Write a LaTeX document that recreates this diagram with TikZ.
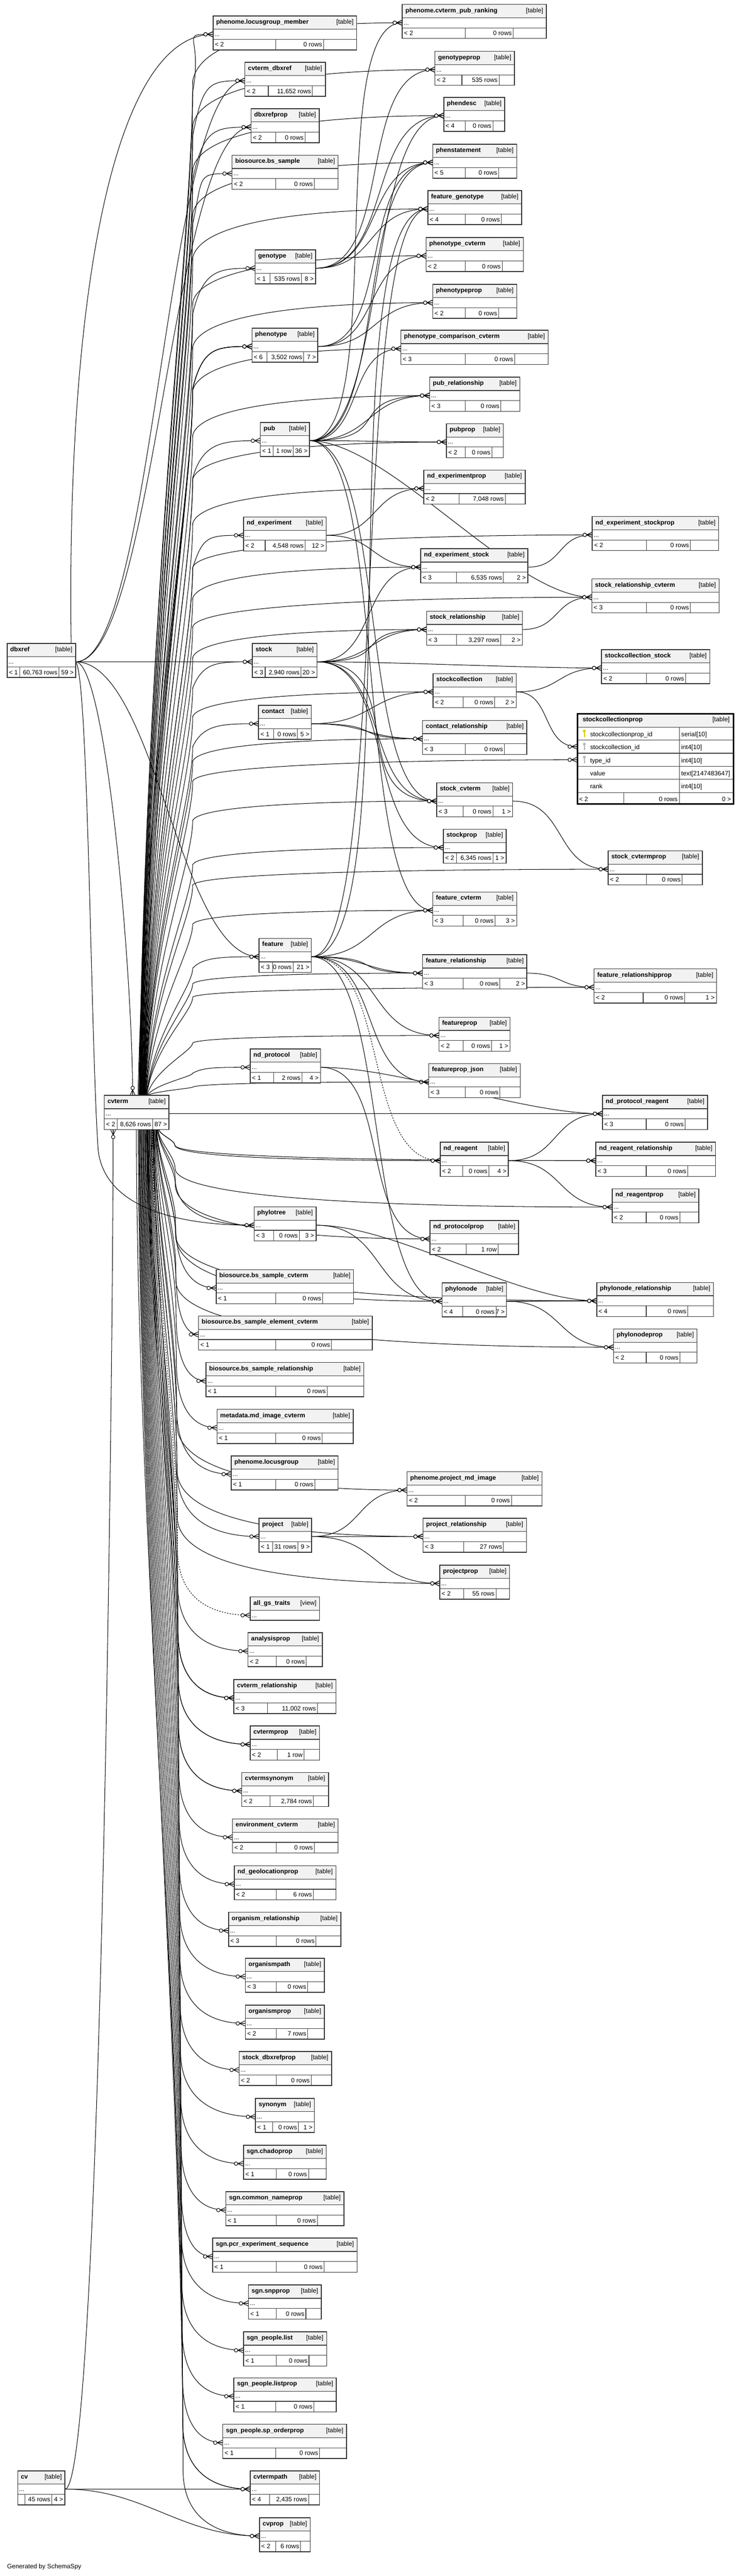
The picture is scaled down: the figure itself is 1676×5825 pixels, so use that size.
\documentclass[tikz,border=0pt]{standalone}
\usepackage{fontspec}
\setmainfont{Liberation Sans}
\usetikzlibrary{calc}
\pgfdeclarelayer{paper}
\pgfdeclarelayer{links}
\pgfsetlayers{paper,links,main}
\definecolor{keygold}{RGB}{222,205,0}
\definecolor{keygrey}{RGB}{185,185,185}
\tikzstyle{tblbox} = [rectangle, inner sep=0pt, outer sep=0pt, minimum height=77pt]
\tikzstyle{tblhead} = [fill=black!5]
\tikzstyle{tblrule} = [draw=black!75, line width=1.3pt]
\tikzstyle{tblframe} = [draw=black!80, line width=1.8pt]
\tikzstyle{tbltitle} = [inner sep=0pt, font=\fontsize{14.3}{17}\selectfont\bfseries]
\tikzstyle{tbltext} = [inner sep=0pt, font=\fontsize{14.3}{17}\selectfont]
\tikzstyle{fkline} = [line width=1.2pt, black]
\tikzset{kf/.store in=\kf, kf=1, cvdx/.store in=\cvdx, cvdx=0,
  crow/.pic={
    \draw[fkline] (-13,0) -- (0,-6) (-13,0) -- (0,6) (-13,0) -- (0,0);
    \draw[fkline, fill=white] (-17,0) circle (4pt);
  }}

% one table: name, left, right, top, split1, split2, title, footer
\newcommand\tbl[8]{%
  \node[tblbox, minimum width={(#3-#2)*1pt}] (#1) at ({(#2+#3)/2},{#4+38.5}) {};
  \fill[white] (#2,#4) rectangle (#3,#4+77);
  \fill[tblhead] (#2,#4) rectangle (#3,#4+30);
  \draw[tblrule] (#2,#4+30) -- (#3,#4+30) (#2,#4+53) -- (#3,#4+53)
    (#5,#4+53) -- (#5,#4+77) (#6,#4+53) -- (#6,#4+77);
  \draw[tblframe] (#2,#4) rectangle (#3,#4+77);
  \node[tbltitle, anchor=base west] (#1-name) at (#2+7,#4+18) {#7};
  \node[tbltext, anchor=base east] (#1-kind) at (#3-7,#4+18) {[table]};
  \node[tbltext, anchor=base west] (#1-dots) at (#2+3,#4+46) {...};
  \tblfoot{#1}{#2}{#3}{#4}{#5}{#6}#8\endfoot
  \coordinate (#1-in) at (#2,#4+41.5);
  \coordinate (#1-out) at (#3,#4+41.5);
}
\def\tblfoot#1#2#3#4#5#6#7|#8|#9\endfoot{%
  \node[tbltext, anchor=base west] (#1-up) at (#2+4,#4+70) {#7};
  \node[tbltext, anchor=base east] (#1-rows) at (#6-3,#4+70) {#8};
  \node[tbltext, anchor=base east] (#1-down) at (#3-4,#4+70) {#9};
}
% link from parent to child
\newcommand\fk[3][]{%
  \draw[fkline,#1] let \p1=(#2-out), \p2=(#3-in),
    \n1={\kf*max(40,min(180,0.5*abs(\x2-\x1)+0.1*abs(\y2-\y1)))} in
    (\p1) .. controls +(\n1,0) and +(-\n1,0) .. (\p2);
  \pic at (#3-in) {crow};}
% links leaving cvterm upwards, downwards (with a knee), sideways
\newcommand\cvu[2][]{%
  \draw[fkline,#1] let \p1=(cvterm.north), \p2=(#2-in),
    \p3=({314+0.008*abs(\y2)+(\cvdx)},{\y2-10-0.05*abs(\y1-\y2)}) in
    (\x3,\y1) .. controls ({\x3+0.15*(436-\x3)},{0.5*\y1+0.5*\y3})
      and (436,{\y3-0.15*(\y3-\y1)}) .. (436,\y3)
      .. controls (460,\y2) and ({\x2-80},\y2) .. (\p2);
  \pic at (#2-in) {crow};}
\newcommand\cvd[2][]{%
  \draw[fkline,#1] let \p1=(cvterm.south), \p2=(#2-in),
    \p3=({312+0.015*(5800-abs(\y2))+(\cvdx)},{\y2+min(150,0.5*abs(\y1-\y2))}),
    \p4=({395+0.006*(abs(\y2)-2554)},0) in
    (\x3,\y1) .. controls (\x3,{0.7*\y1+0.3*\y3}) and (\x4,{0.3*\y1+0.7*\y3}) .. (\x4,\y3)
      .. controls (\x4,{0.3*\y3+0.7*\y2}) and ({\x2-0.6*(\x2-\x4)},\y2) .. (\p2);
  \pic at (#2-in) {crow};}
\newcommand\cvr[2][]{%
  \draw[fkline,#1] (cvterm-out) .. controls +(120,0) and +(-120,0) .. (#2-in);
  \pic at (#2-in) {crow};}

\begin{document}
\begin{tikzpicture}[x=1pt, y=-1pt]
\useasboundingbox (0,0) rectangle (1676,5825);
\begin{pgfonlayer}{paper}
  \fill[white] (0,0) rectangle (1676,5825);
\end{pgfonlayer}

% Tables
\tbl{locusgroupMember}{482}{807}{36}{624}{732}{phenome.locusgroup\_member}{< 2|0 rows|}
\tbl{cvtermDbxref}{554}{736}{141}{607}{707}{cvterm\_dbxref}{< 2|11,652 rows|}
\tbl{dbxrefprop}{568}{722}{246}{624}{690}{dbxrefprop}{< 2|0 rows|}
\tbl{bsSample}{525}{765}{351}{624}{711}{biosource.bs\_sample}{< 2|0 rows|}
\tbl{genotype}{577}{714}{565}{611}{682}{genotype}{< 1|535 rows|8 >}
\tbl{phenotype}{570}{719}{742}{604}{687}{phenotype}{< 6|3,502 rows|7 >}
\tbl{pub}{589}{700}{955}{618}{663}{pub}{< 1|1 row|36 >}
\tbl{ndExperiment}{551}{738}{1169}{600}{690}{nd\_experiment}{< 2|4,548 rows|12 >}
\tbl{stock}{571}{717}{1455}{600}{681}{stock}{< 3|2,940 rows|20 >}
\tbl{contact}{585}{704}{1595}{619}{673}{contact}{< 1|0 rows|5 >}
\tbl{feature}{586}{704}{2122}{617}{663}{feature}{< 3|0 rows|21 >}
\tbl{ndProtocol}{566}{725}{2372}{619}{683}{nd\_protocol}{< 1|2 rows|4 >}
\tbl{phylotree}{575}{715}{2729}{619}{677}{phylotree}{< 3|0 rows|3 >}
\tbl{bsSampleCvterm}{489}{800}{2871}{624}{730}{biosource.bs\_sample\_cvterm}{< 1|0 rows|}
\tbl{bsSampleElementCvterm}{449}{842}{2976}{624}{750}{biosource.bs\_sample\_element\_cvterm}{< 1|0 rows|}
\tbl{bsSampleRelationship}{466}{823}{3081}{624}{740}{biosource.bs\_sample\_relationship}{< 1|0 rows|}
\tbl{mdImageCvterm}{491}{799}{3187}{624}{729}{metadata.md\_image\_cvterm}{< 1|0 rows|}
\tbl{locusgroup}{523}{765}{3292}{624}{712}{phenome.locusgroup}{< 1|0 rows|}
\tbl{project}{586}{705}{3433}{617}{674}{project}{< 1|31 rows|9 >}
\tbl{analysisprop}{561}{729}{3692}{625}{693}{analysisprop}{< 2|0 rows|}
\tbl{cvtermRelationship}{529}{760}{3798}{605}{718}{cvterm\_relationship}{< 3|11,002 rows|}
\tbl{cvtermprop}{566}{723}{3903}{627}{688}{cvtermprop}{< 2|1 row|}
\tbl{cvtermsynonym}{547}{743}{4008}{611}{709}{cvtermsynonym}{< 2|2,784 rows|}
\tbl{environmentCvterm}{526}{765}{4113}{625}{711}{environment\_cvterm}{< 2|0 rows|}
\tbl{ndGeolocationprop}{530}{760}{4219}{625}{709}{nd\_geolocationprop}{< 2|6 rows|}
\tbl{organismRelationship}{517}{771}{4324}{625}{715}{organism\_relationship}{< 3|0 rows|}
\tbl{organismpath}{555}{734}{4428}{625}{696}{organismpath}{< 3|0 rows|}
\tbl{organismprop}{555}{734}{4534}{625}{696}{organismprop}{< 2|7 rows|}
\tbl{stockDbxrefprop}{541}{750}{4639}{625}{704}{stock\_dbxrefprop}{< 2|0 rows|}
\tbl{synonym}{578}{711}{4745}{617}{675}{synonym}{< 1|0 rows|1 >}
\tbl{chadoprop}{551}{738}{4851}{625}{698}{sgn.chadoprop}{< 1|0 rows|}
\tbl{commonNameprop}{511}{778}{4956}{625}{718}{sgn.common\_nameprop}{< 1|0 rows|}
\tbl{pcrExperimentSequence}{481}{808}{5061}{625}{733}{sgn.pcr\_experiment\_sequence}{< 1|0 rows|}
\tbl{snpprop}{562}{727}{5167}{625}{692}{sgn.snpprop}{< 1|0 rows|}
\tbl{peopleList}{551}{739}{5273}{625}{699}{sgn\_people.list}{< 1|0 rows|}
\tbl{peopleListprop}{529}{761}{5377}{624}{710}{sgn\_people.listprop}{< 1|0 rows|}
\tbl{spOrderprop}{504}{784}{5482}{624}{723}{sgn\_people.sp\_orderprop}{< 1|0 rows|}
\tbl{cvtermpath}{566}{723}{5587}{610}{698}{cvtermpath}{< 4|2,435 rows|}
\tbl{cvprop}{587}{702}{5693}{624}{680}{cvprop}{< 2|6 rows|}
\tbl{dbxref}{16}{171}{1455}{45}{133}{dbxref}{< 1|60,763 rows|59 >}
\tbl{cvterm}{236}{382}{2477}{265}{345}{cvterm}{< 2|8,626 rows|87 >}
\tbl{cv}{40}{147}{5587}{57}{117}{cv}{|45 rows|4 >}
\tbl{cvtermPubRanking}{910}{1236}{10}{1053}{1161}{phenome.cvterm\_pub\_ranking}{< 2|0 rows|}
\tbl{genotypeprop}{984}{1164}{116}{1045}{1129}{genotypeprop}{< 2|535 rows|}
\tbl{phendesc}{1004}{1142}{220}{1053}{1115}{phendesc}{< 4|0 rows|}
\tbl{phenstatement}{979}{1169}{326}{1053}{1128}{phenstatement}{< 5|0 rows|}
\tbl{featureGenotype}{968}{1180}{431}{1053}{1134}{feature\_genotype}{< 4|0 rows|}
\tbl{phenotypeCvterm}{964}{1184}{537}{1053}{1136}{phenotype\_cvterm}{< 2|0 rows|}
\tbl{phenotypeprop}{979}{1169}{643}{1053}{1128}{phenotypeprop}{< 2|0 rows|}
\tbl{phenotypeComparisonCvterm}{907}{1240}{747}{1053}{1164}{phenotype\_comparison\_cvterm}{< 3|0 rows|}
\tbl{pubRelationship}{972}{1176}{853}{1053}{1133}{pub\_relationship}{< 3|0 rows|}
\tbl{pubprop}{1010}{1139}{958}{1053}{1113}{pubprop}{< 2|0 rows|}
\tbl{ndExperimentprop}{959}{1188}{1063}{1039}{1143}{nd\_experimentprop}{< 2|7,048 rows|}
\tbl{ndExperimentStock}{952}{1194}{1241}{1033}{1139}{nd\_experiment\_stock}{< 3|6,535 rows|2 >}
\tbl{stockRelationship}{965}{1182}{1382}{1033}{1133}{stock\_relationship}{< 3|3,297 rows|2 >}
\tbl{stockcollection}{980}{1168}{1523}{1048}{1119}{stockcollection}{< 2|0 rows|2 >}
\tbl{contactRelationship}{956}{1192}{1629}{1053}{1141}{contact\_relationship}{< 3|0 rows|}
\tbl{stockCvterm}{988}{1160}{1770}{1048}{1115}{stock\_cvterm}{< 3|0 rows|1 >}
\tbl{stockprop}{1003}{1145}{1875}{1033}{1115}{stockprop}{< 2|6,345 rows|1 >}
\tbl{featureCvterm}{979}{1169}{2017}{1048}{1120}{feature\_cvterm}{< 3|0 rows|3 >}
\tbl{featureRelationship}{956}{1192}{2159}{1048}{1131}{feature\_relationship}{< 3|0 rows|2 >}
\tbl{featureprop}{993}{1154}{2300}{1048}{1112}{featureprop}{< 2|0 rows|1 >}
\tbl{featurepropJson}{970}{1177}{2405}{1053}{1131}{featureprop\_json}{< 3|0 rows|}
\tbl{ndReagent}{996}{1150}{2583}{1047}{1106}{nd\_reagent}{< 2|0 rows|4 >}
\tbl{ndProtocolprop}{973}{1173}{2760}{1055}{1127}{nd\_protocolprop}{< 2|1 row|}
\tbl{phylonode}{1000}{1146}{2901}{1047}{1122}{phylonode}{< 4|0 rows|7 >}
\tbl{projectMdImage}{921}{1226}{3328}{1053}{1157}{phenome.project\_md\_image}{< 2|0 rows|}
\tbl{projectRelationship}{957}{1191}{3433}{1049}{1139}{project\_relationship}{< 3|27 rows|}
\tbl{projectprop}{995}{1153}{3539}{1049}{1122}{projectprop}{< 2|55 rows|}
\tbl{ndExperimentStockprop}{1340}{1626}{1168}{1463}{1562}{nd\_experiment\_stockprop}{< 2|0 rows|}
\tbl{stockRelationshipCvterm}{1339}{1627}{1309}{1463}{1562}{stock\_relationship\_cvterm}{< 3|0 rows|}
\tbl{stockcollectionStock}{1361}{1606}{1469}{1463}{1551}{stockcollection\_stock}{< 2|0 rows|}
\tbl{stockCvtermprop}{1376}{1589}{1924}{1463}{1543}{stock\_cvtermprop}{< 2|0 rows|}
\tbl{featureRelationshipprop}{1344}{1621}{2191}{1455}{1549}{feature\_relationshipprop}{< 2|0 rows|1 >}
\tbl{ndProtocolReagent}{1363}{1601}{2477}{1462}{1550}{nd\_protocol\_reagent}{< 3|0 rows|}
\tbl{ndReagentRelationship}{1348}{1619}{2583}{1462}{1556}{nd\_reagent\_relationship}{< 3|0 rows|}
\tbl{ndReagentprop}{1385}{1581}{2688}{1462}{1538}{nd\_reagentprop}{< 2|0 rows|}
\tbl{phylonodeRelationship}{1350}{1614}{2900}{1462}{1556}{phylonode\_relationship}{< 4|0 rows|}
\tbl{phylonodeprop}{1388}{1577}{3005}{1462}{1538}{phylonodeprop}{< 2|0 rows|}

% the view
\node[tblbox, minimum width=157pt, minimum height=53pt] (allGsTraits) at (644.5,3637.5) {};
\fill[white] (566,3611) rectangle (723,3664);
\fill[tblhead] (566,3611) rectangle (723,3641);
\draw[tblrule] (566,3641) -- (723,3641);
\draw[tblframe] (566,3611) rectangle (723,3664);
\node[tbltitle, anchor=base west] (allGsTraits-name) at (573,3629) {all\_gs\_traits};
\node[tbltext, anchor=base east] (allGsTraits-kind) at (716,3629) {[view]};
\node[tbltext, anchor=base west] (allGsTraits-dots) at (569,3657) {...};
\coordinate (allGsTraits-in) at (566,3652.5);

% the focus table with its columns
\node[tblbox, minimum width=353pt, minimum height=204pt] (stockcollectionprop) at (1482.5,1716) {};
\fill[white] (1306,1614) rectangle (1659,1818);
\fill[tblhead] (1306,1614) rectangle (1659,1644);
\draw[tblrule] (1306,1644) -- (1659,1644) (1306,1673.6) -- (1659,1673.6)
  (1306,1703.2) -- (1659,1703.2) (1306,1732.8) -- (1659,1732.8)
  (1306,1762.4) -- (1659,1762.4) (1306,1792) -- (1659,1792)
  (1537,1644) -- (1537,1818) (1411,1792) -- (1411,1818);
\draw[black, line width=3.5pt] (1306,1614) rectangle (1659,1818);
\node[tbltitle, anchor=base west] (stockcollectionprop-name) at (1318,1632) {stockcollectionprop};
\node[tbltext, anchor=base east] (stockcollectionprop-kind) at (1651,1632) {[table]};
\node[tbltext, anchor=base west] (colId) at (1335,1665) {stockcollectionprop\_id};
\node[tbltext, anchor=base west] (colIdType) at (1541,1665) {serial[10]};
\node[tbltext, anchor=base west] (colCollection) at (1335,1694.6) {stockcollection\_id};
\node[tbltext, anchor=base west] (colCollectionType) at (1541,1694.6) {int4[10]};
\node[tbltext, anchor=base west] (colTypeId) at (1335,1724.2) {type\_id};
\node[tbltext, anchor=base west] (colTypeIdType) at (1541,1724.2) {int4[10]};
\node[tbltext, anchor=base west] (colValue) at (1335,1753.8) {value};
\node[tbltext, anchor=base west] (colValueType) at (1541,1753.8) {text[2147483647]};
\node[tbltext, anchor=base west] (colRank) at (1335,1783.4) {rank};
\node[tbltext, anchor=base west] (colRankType) at (1541,1783.4) {int4[10]};
\node[tbltext, anchor=base west] (stockcollectionprop-up) at (1310,1812) {< 2};
\node[tbltext, anchor=base east] (stockcollectionprop-rows) at (1533,1812) {0 rows};
\node[tbltext, anchor=base east] (stockcollectionprop-down) at (1654,1812) {0 >};
% keys
\fill[keygold] (1322,1653) circle (3.3pt);
\draw[keygold, line width=1.8pt] (1322,1653) -- (1322,1667) (1322,1663) -- (1325,1663);
\fill[keygrey] (1322,1682.6) circle (3.3pt);
\draw[keygrey, line width=1.8pt] (1322,1682.6) -- (1322,1696.6) (1322,1692.6) -- (1325,1692.6);
\fill[keygrey] (1322,1712.2) circle (3.3pt);
\draw[keygrey, line width=1.8pt] (1322,1712.2) -- (1322,1726.2) (1322,1722.2) -- (1325,1722.2);
\coordinate (stockcollectionprop-in) at (1306,1688.4);
\coordinate (stockcollectionpropType-in) at (1306,1718);

\node[tbltext, anchor=base west] (credit) at (16,5808) {Generated by SchemaSpy};

% Links
\begin{pgfonlayer}{links}
  % dbxref and cv
  \draw[fkline] ([xshift=-10pt]dbxref.north east) .. controls (150,700) and (250,78) .. (locusgroupMember-in);
  \pic at (locusgroupMember-in) {crow};
  \fk{dbxref}{cvtermDbxref}
  \fk{dbxref}{dbxrefprop}
  \fk{dbxref}{stock}
  \fk{dbxref}{feature}
  \draw[fkline] (dbxref-out) .. controls (200,1520) and (205,2350) .. (222,2600)
    .. controls (240,2760) and (480,2771) .. (phylotree-in);
  \pic at (phylotree-in) {crow};
  \draw[fkline] (dbxref-out) .. controls (240,1497) and (300,2200) .. ([xshift=-9pt]cvterm.north);
  \pic[rotate=-90] at ([xshift=-9pt]cvterm.north) {crow};
  \draw[fkline] (cv-out) .. controls (230,5628) and (256,3000) .. ([xshift=20pt]cvterm.south west);
  \pic[rotate=90] at ([xshift=20pt]cvterm.south west) {crow};
  \fk{cv}{cvtermpath}
  \fk{cv}{cvprop}

  % cvterm upwards
  \cvu{locusgroupMember}
  \cvu{cvtermPubRanking}
  \cvu{cvtermDbxref}
  \cvu{genotypeprop}
  \cvu{phendesc}
  \cvu{dbxrefprop}
  \cvu{phenstatement}
  \cvu{bsSample}
  \cvu{featureGenotype}
  \cvu{phenotypeCvterm}
  \cvu{genotype}
  \cvu{phenotypeprop}
  \cvu{phenotype}
  \cvu[cvdx=-4]{phenotype}
  \cvu[cvdx=-8]{phenotype}
  \cvu[cvdx=4]{phenotype}
  \cvu{phenotypeComparisonCvterm}
  \cvu{pubRelationship}
  \cvu{pub}
  \cvu{pubprop}
  \cvu{ndExperimentprop}
  \cvu{ndExperimentStockprop}
  \cvu{ndExperiment}
  \cvu{ndExperimentStock}
  \cvu{stockRelationshipCvterm}
  \cvu{stockRelationship}
  \cvu{stock}
  \cvu{stockcollection}
  \cvu{contact}
  \cvu{stockcollectionpropType}
  \cvu{contactRelationship}
  \cvu{stockCvterm}
  \cvu{stockprop}
  \cvu{stockCvtermprop}
  \cvu{featureCvterm}
  \cvu{feature}
  \cvu{featureRelationship}
  \cvu{featureRelationshipprop}
  \cvu{featureprop}
  \cvu{ndProtocol}
  \cvu{featurepropJson}
  \cvr{ndProtocolReagent}
  % cvterm downwards
  \cvd{ndReagent}
  \cvd{ndReagentRelationship}
  \cvd{ndReagentprop}
  \cvd{phylotree}
  \cvd{ndProtocolprop}
  \cvd{bsSampleCvterm}
  \cvd{phylonode}
  \cvd{phylonodeRelationship}
  \cvd{bsSampleElementCvterm}
  \cvd{phylonodeprop}
  \cvd{bsSampleRelationship}
  \cvd{mdImageCvterm}
  \cvd{locusgroup}
  \cvd{projectMdImage}
  \cvd{project}
  \cvd{projectRelationship}
  \cvd{projectprop}
  \cvd[dashed]{allGsTraits}
  \cvd{analysisprop}
  \cvd{cvtermRelationship}
  \cvd[cvdx=-6]{cvtermRelationship}
  \cvd[cvdx=6]{cvtermRelationship}
  \cvd{cvtermprop}
  \cvd[cvdx=-6]{cvtermprop}
  \cvd{cvtermsynonym}
  \cvd[cvdx=-6]{cvtermsynonym}
  \cvd{environmentCvterm}
  \cvd{ndGeolocationprop}
  \cvd{organismRelationship}
  \cvd{organismpath}
  \cvd{organismprop}
  \cvd{stockDbxrefprop}
  \cvd{synonym}
  \cvd{chadoprop}
  \cvd{commonNameprop}
  \cvd{pcrExperimentSequence}
  \cvd{snpprop}
  \cvd{peopleList}
  \cvd{peopleListprop}
  \cvd{spOrderprop}
  \cvd{cvtermpath}
  \cvd[cvdx=-6]{cvtermpath}
  \cvd{cvprop}

  % other parents
  \fk{genotype}{genotypeprop}
  \fk{genotype}{phendesc}
  \fk{genotype}{phenstatement}
  \fk{genotype}{featureGenotype}
  \fk{phenotype}{phenstatement}
  \fk{phenotype}{phenotypeCvterm}
  \fk{phenotype}{phenotypeprop}
  \fk{pub}{cvtermPubRanking}
  \fk{pub}{phendesc}
  \fk{pub}{phenstatement}
  \fk{pub}{phenotypeComparisonCvterm}
  \fk{pub}{pubRelationship}
  \fk[kf=1.4]{pub}{pubRelationship}
  \fk{pub}{pubprop}
  \fk{pub}{stockRelationshipCvterm}
  \fk{pub}{stockCvterm}
  \fk{pub}{featureCvterm}
  \fk{ndExperiment}{ndExperimentprop}
  \fk{ndExperiment}{ndExperimentStock}
  \fk{stock}{ndExperimentStock}
  \fk{stock}{stockRelationship}
  \fk[kf=1.4]{stock}{stockRelationship}
  \fk{stock}{stockcollectionStock}
  \fk{stock}{stockCvterm}
  \fk[kf=1.3]{stock}{stockCvterm}
  \fk{stock}{stockprop}
  \fk{contact}{stockcollection}
  \fk{contact}{contactRelationship}
  \fk[kf=1.4]{contact}{contactRelationship}
  \fk{feature}{featureGenotype}
  \fk[kf=1.3]{feature}{featureGenotype}
  \fk{feature}{featureCvterm}
  \fk{feature}{featureRelationship}
  \fk[kf=1.4]{feature}{featureRelationship}
  \fk{feature}{featureprop}
  \fk{feature}{featurepropJson}
  \fk[dashed]{feature}{ndReagent}
  \fk{feature}{phylonode}
  \fk{ndProtocol}{ndProtocolReagent}
  \fk{ndProtocol}{ndProtocolprop}
  \fk{phylotree}{phylonode}
  \fk{phylotree}{phylonodeRelationship}
  \fk{project}{projectMdImage}
  \fk{project}{projectRelationship}
  \fk[kf=1.4]{project}{projectRelationship}
  \fk{project}{projectprop}
  \fk{ndExperimentStock}{ndExperimentStockprop}
  \fk{stockRelationship}{stockRelationshipCvterm}
  \fk{stockcollection}{stockcollectionStock}
  \fk{stockcollection}{stockcollectionprop}
  \fk{stockCvterm}{stockCvtermprop}
  \fk{featureRelationship}{featureRelationshipprop}
  \fk{ndReagent}{ndProtocolReagent}
  \fk{ndReagent}{ndReagentRelationship}
  \fk[kf=1.4]{ndReagent}{ndReagentRelationship}
  \fk{ndReagent}{ndReagentprop}
  \fk{phylonode}{phylonodeRelationship}
  \fk[kf=1.4]{phylonode}{phylonodeRelationship}
  \fk{phylonode}{phylonodeprop}
\end{pgfonlayer}
\end{tikzpicture}
\end{document}
